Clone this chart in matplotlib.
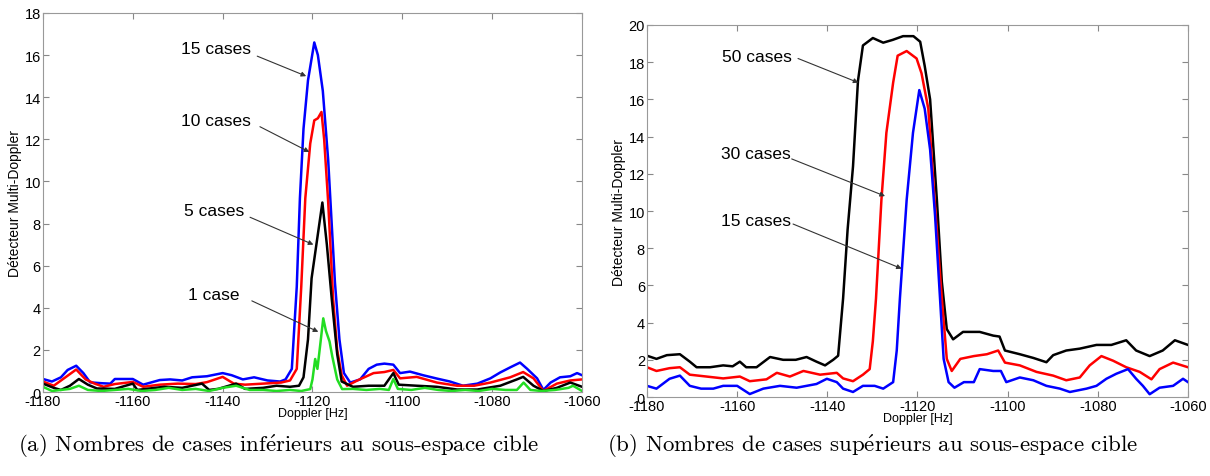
import matplotlib
matplotlib.use("Agg")
import matplotlib.pyplot as plt

plt.rcParams['font.family'] = ['Liberation Sans', 'DejaVu Sans']
plt.rcParams['axes.unicode_minus'] = False
plt.rcParams['mathtext.fontset'] = 'cm'

# ---- panel (a): fewer cells than the target subspace ----
a_x15 = [-1180, -1178, -1176, -1174.5, -1172.6, -1171, -1169.5, -1167, -1165, -1164, -1160, -1157.7,
         -1154, -1151.7, -1149, -1146.8, -1143.5, -1140, -1138, -1135.5, -1133, -1130, -1127.2, -1126,
         -1124.6, -1123.5, -1122.8, -1122, -1121, -1119.6, -1118.8, -1117.7, -1116.5, -1115, -1114,
         -1113, -1111.6, -1109.4, -1107.5, -1105.7, -1104, -1102, -1100.5, -1098.3, -1095.4, -1092.3,
         -1089.4, -1086.5, -1083.3, -1080.4, -1078.2, -1076, -1073.8, -1072.2, -1070, -1068.6, -1067,
         -1064.9, -1062.6, -1061.1, -1060]
a_y15 = [0.62, 0.5, 0.7, 1.05, 1.25, 0.9, 0.46, 0.42, 0.4, 0.62, 0.62, 0.35,
         0.57, 0.6, 0.55, 0.7, 0.75, 0.9, 0.8, 0.6, 0.7, 0.55, 0.5, 0.6,
         1.1, 5.0, 9.2, 12.5, 14.8, 16.6, 16.0, 14.3, 11.0, 5.2, 2.5,
         0.9, 0.45, 0.6, 1.1, 1.3, 1.35, 1.3, 0.9, 0.97, 0.8, 0.64,
         0.5, 0.3, 0.4, 0.65, 0.93, 1.17, 1.4, 1.1, 0.65, 0.1, 0.45,
         0.7, 0.75, 0.9, 0.8]

a_x10 = [-1180, -1177.6, -1175, -1172.6, -1170.5, -1168.5, -1166.5, -1164, -1160, -1157.7, -1154, -1150,
         -1146, -1143.5, -1140, -1137.5, -1135, -1131, -1127, -1125, -1123.5, -1122.5, -1121.6, -1120.5,
         -1119.6, -1118.8, -1118, -1117.4, -1116.5, -1115.4, -1114.5, -1113.5, -1112.3, -1110, -1106.4,
         -1104, -1102, -1100.5, -1096.8, -1092.3, -1087.8, -1084, -1080.4, -1076, -1073.1, -1070.8,
         -1068.6, -1065.6, -1062.6, -1060]
a_y10 = [0.5, 0.3, 0.7, 1.07, 0.6, 0.4, 0.25, 0.38, 0.48, 0.25, 0.35, 0.4,
         0.38, 0.47, 0.72, 0.4, 0.35, 0.4, 0.45, 0.55, 1.1, 5.0, 9.2, 11.8,
         12.9, 13.0, 13.3, 12.0, 9.0, 4.4, 2.0, 0.8, 0.3, 0.55, 0.9,
         0.95, 1.05, 0.65, 0.72, 0.45, 0.3, 0.3, 0.45, 0.7, 0.95, 0.65,
         0.05, 0.4, 0.55, 0.6]

a_x5 = [-1180, -1177.6, -1176, -1174, -1172, -1170, -1168, -1164, -1160, -1159, -1157, -1153,
        -1149, -1144.6, -1143, -1141, -1137, -1135, -1131, -1128, -1125, -1123, -1122, -1121,
        -1120.2, -1119, -1117.8, -1116.8, -1115.7, -1114.5, -1113.5, -1111, -1107.5, -1104, -1102,
        -1100.8, -1096.8, -1092.3, -1087.8, -1083.3, -1078.2, -1074.5, -1073.1, -1070.8, -1068.6,
        -1065.6, -1062.6, -1060]
a_y5 = [0.4, 0.2, 0.1, 0.3, 0.62, 0.35, 0.17, 0.15, 0.4, 0.1, 0.15, 0.25,
        0.2, 0.4, 0.1, 0.15, 0.4, 0.15, 0.2, 0.3, 0.25, 0.3, 0.7, 2.5,
        5.4, 7.2, 9.0, 7.0, 4.4, 1.8, 0.5, 0.25, 0.3, 0.3, 0.9,
        0.35, 0.3, 0.25, 0.12, 0.12, 0.3, 0.6, 0.72, 0.3, 0.05,
        0.2, 0.45, 0.25]

a_x1 = [-1180, -1178, -1176, -1174, -1172, -1170, -1167, -1164, -1161, -1158, -1155, -1152,
        -1149, -1146, -1143, -1140, -1137, -1134, -1131, -1128, -1125, -1122.5, -1120.5, -1120,
        -1119.4, -1118.9, -1118.3, -1117.6, -1117, -1116.2, -1115.6, -1114.5, -1113.4, -1111, -1108,
        -1105, -1103, -1102, -1101, -1098, -1095, -1092, -1089, -1086, -1083, -1080, -1077, -1074.5,
        -1073, -1071.5, -1069, -1066, -1063, -1062, -1060]
a_y1 = [0.25, 0.05, 0.1, 0.15, 0.3, 0.1, 0.05, 0.1, 0.15, 0.05, 0.1, 0.2,
        0.1, 0.15, 0.05, 0.2, 0.3, 0.1, 0.1, 0.05, 0.1, 0.05, 0.14, 0.6,
        1.57, 1.1, 2.2, 3.5, 2.9, 2.4, 1.7, 0.6, 0.14, 0.15, 0.1,
        0.15, 0.1, 0.62, 0.15, 0.1, 0.2, 0.1, 0.05, 0.1, 0.05, 0.15, 0.1, 0.1,
        0.45, 0.1, 0.05, 0.1, 0.2, 0.3, 0.05]

# ---- panel (b): more cells than the target subspace ----
b_x50 = [-1180, -1177.9, -1175.6, -1172.7, -1170.5, -1169, -1166, -1163.1, -1161, -1159.4, -1158,
         -1155.7, -1152.7, -1149.8, -1147, -1144.6, -1142.4, -1140.5, -1138.7, -1137.6, -1136.5,
         -1135.5, -1134.3, -1133.2, -1132.1, -1129.9, -1127.6, -1125.5, -1123.2, -1120.9, -1119.4,
         -1118.4, -1117.2, -1115.7, -1114.6, -1113.5, -1112.1, -1109.9, -1106.2, -1103.2, -1101.8,
         -1100.6, -1097.3, -1094.3, -1091.4, -1089.9, -1087, -1084, -1080.3, -1077, -1073.7,
         -1071.5, -1068.5, -1065.6, -1062.9, -1060]
b_y50 = [2.22, 2.05, 2.25, 2.3, 1.9, 1.6, 1.6, 1.7, 1.65, 1.9, 1.6,
         1.6, 2.15, 2.0, 2.0, 2.15, 1.9, 1.7, 2.0, 2.22, 5.3,
         9.0, 12.4, 17.0, 18.9, 19.3, 19.05, 19.2, 19.4, 19.4, 19.1,
         17.8, 16.0, 10.6, 6.2, 3.65, 3.1, 3.5, 3.5, 3.3, 3.25,
         2.5, 2.3, 2.1, 1.87, 2.25, 2.5, 2.6, 2.8, 2.8, 3.05,
         2.5, 2.2, 2.5, 3.05, 2.8]

b_x30 = [-1180, -1177.9, -1175, -1172.7, -1170.5, -1166.8, -1163.1, -1159.4, -1157.2, -1153.5, -1151.2,
         -1148.3, -1145.3, -1141.6, -1137.9, -1136.5, -1134.3, -1132.1, -1130.6, -1129.9, -1129.2,
         -1128, -1126.9, -1125.4, -1124.4, -1122.4, -1120.2, -1119.1, -1117.6, -1116.2, -1114.6,
         -1113.5, -1112.4, -1110.5, -1107.5, -1104.6, -1102.1, -1100.6, -1097.3, -1093.6, -1089.9,
         -1087, -1084, -1081.8, -1079.2, -1076.6, -1073.7, -1070.7, -1068.1, -1066.3, -1063.3, -1060]
b_y30 = [1.6, 1.4, 1.55, 1.6, 1.2, 1.1, 1.0, 1.1, 0.85, 0.95, 1.3,
         1.1, 1.4, 1.2, 1.3, 1.0, 0.85, 1.2, 1.5, 3.0, 5.3,
         10.6, 14.2, 16.9, 18.35, 18.6, 18.2, 17.4, 15.5, 10.6, 5.3,
         2.05, 1.4, 2.05, 2.2, 2.3, 2.5, 1.85, 1.7, 1.35, 1.15,
         0.9, 1.05, 1.7, 2.2, 1.95, 1.6, 1.35, 0.95, 1.5, 1.85, 1.6]

b_x15 = [-1180, -1177.9, -1175, -1172.7, -1170.5, -1168, -1165.3, -1163.1, -1160, -1157.2, -1154.2,
         -1150.5, -1146.8, -1142.4, -1140.1, -1137.9, -1136.5, -1134.3, -1132.1, -1129.5, -1127.6,
         -1125.4, -1124.6, -1123.9, -1122.4, -1121, -1119.6, -1118.4, -1117.2, -1116.1, -1115,
         -1114.2, -1113.1, -1111.8, -1109.7, -1107.5, -1106.2, -1103.2, -1101.5, -1100.3, -1097.3,
         -1094.3, -1091.4, -1088.4, -1086.2, -1082.5, -1080.3, -1078.1, -1075.9, -1073.3, -1071.5,
         -1070, -1068.5, -1066.3, -1063.3, -1061.1, -1060]
b_y15 = [0.6, 0.45, 0.98, 1.15, 0.6, 0.45, 0.45, 0.6, 0.6, 0.16, 0.45,
         0.6, 0.5, 0.7, 0.98, 0.8, 0.45, 0.27, 0.6, 0.6, 0.45,
         0.8, 2.5, 5.3, 10.6, 14.2, 16.5, 15.5, 13.3, 9.75, 5.3,
         2.05, 0.8, 0.5, 0.8, 0.8, 1.5, 1.4, 1.4, 0.8, 1.05,
         0.9, 0.6, 0.45, 0.27, 0.45, 0.6, 0.98, 1.25, 1.5, 0.98,
         0.6, 0.15, 0.5, 0.6, 0.98, 0.8]

# annotation labels: (text, text xy, arrow start, arrow tip)
a_notes = [("15 cases", (-1141.5, 16.3), (-1132.3, 15.95), (-1121.4, 15.0)),
           ("10 cases", (-1141.5, 12.9), (-1131.7, 12.6), (-1120.7, 11.4)),
           ("5 cases", (-1141.9, 8.6), (-1133.9, 8.3), (-1119.8, 7.0)),
           ("1 case", (-1141.9, 4.65), (-1133.5, 4.33), (-1118.7, 2.86))]
b_notes = [("50 cases", (-1155.6, 18.3), (-1146.5, 18.2), (-1133.1, 16.9)),
           ("30 cases", (-1155.8, 13.1), (-1147.9, 12.8), (-1127.2, 10.8)),
           ("15 cases", (-1155.8, 9.5), (-1147.6, 9.3), (-1123.5, 6.9))]

xticks = [-1180, -1160, -1140, -1120, -1100, -1080, -1060]
captions = [r'(a) Nombres de cases inf$\mathrm{\acute{e}}$rieurs au sous-espace cible',
            r'(b) Nombres de cases sup$\mathrm{\acute{e}}$rieurs au sous-espace cible']

fig = plt.figure(figsize=(12.1, 4.77), dpi=100)
ax1 = fig.add_axes([0.0355, 0.176, 0.4455, 0.7947])
ax2 = fig.add_axes([0.5347, 0.1656, 0.4471, 0.7799])

lw = 1.8
ax1.plot(a_x15, a_y15, color='#0000ff', lw=lw)
ax1.plot(a_x10, a_y10, color='#ff0000', lw=lw)
ax1.plot(a_x5, a_y5, color='black', lw=lw)
ax1.plot(a_x1, a_y1, color='#22dd22', lw=lw)

ax2.plot(b_x50, b_y50, color='black', lw=lw)
ax2.plot(b_x30, b_y30, color='#ff0000', lw=lw)
ax2.plot(b_x15, b_y15, color='#0000ff', lw=lw)


def style(ax, ymax, notes):
    ax.set_xlim(-1180, -1060)
    ax.set_ylim(0, ymax)
    ax.set_xticks(xticks)
    ax.set_yticks(range(0, ymax + 1, 2))
    ax.tick_params(direction='in', top=True, right=True, length=4, width=0.8,
                   color='#888888', labelsize=10.5, pad=1.5)
    for s in ax.spines.values():
        s.set_color('#999999')
        s.set_linewidth(0.8)
    ax.set_xlabel('Doppler [Hz]', fontsize=9, labelpad=-0.5)
    ax.set_ylabel('Détecteur Multi-Doppler', fontsize=10, labelpad=2)
    for txt, pos, start, tip in notes:
        ax.text(pos[0], pos[1], txt, fontsize=12.5, ha='center', va='center')
        ax.annotate('', xy=tip, xytext=start,
                    arrowprops=dict(arrowstyle='-|>', color='#333333', lw=0.8,
                                    mutation_scale=7, shrinkA=0, shrinkB=0))


style(ax1, 18, a_notes)
style(ax2, 20, b_notes)

cap = dict(fontsize=16.5, family='cmr10', va='center')
fig.text(18 / 1210, 1 - 446 / 477, captions[0], **cap)
fig.text(607 / 1210, 1 - 446 / 477, captions[1], **cap)

fig.savefig('out.png', dpi=100)
